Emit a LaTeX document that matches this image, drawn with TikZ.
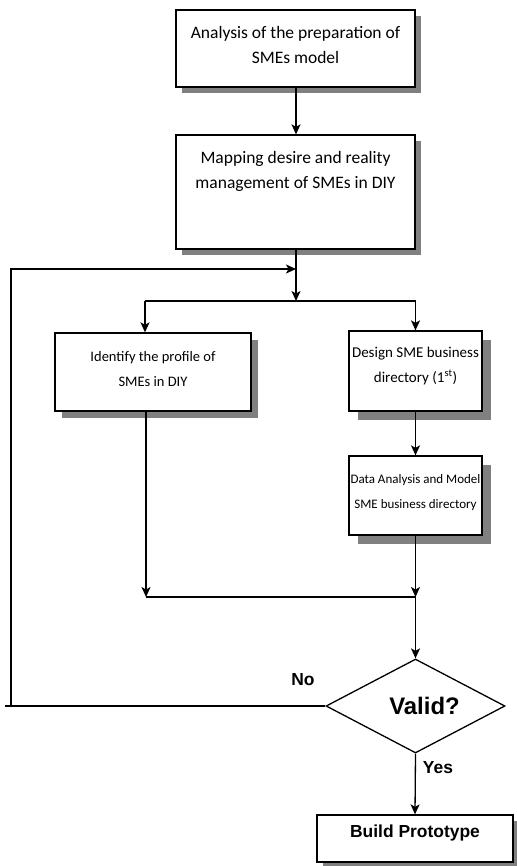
\documentclass[tikz,border=0pt]{standalone}
\usepackage{fontspec}
\setmainfont{Carlito}
\newfontfamily\arialf{Liberation Sans}
\usetikzlibrary{arrows.meta,shapes.geometric,shadows}
\tikzset{
  flowbox/.style={draw=black, line width=1.3bp, fill=white, inner sep=0pt,
    drop shadow={shadow xshift=#1, shadow yshift=-#1, fill=black!50, opacity=1}},
  flowbox/.default=7bp,
  conn/.style={draw=black, line width=1.3bp},
  arr/.style={conn, -{Stealth[length=10bp,width=9bp,inset=2.5bp]}},
  decision/.style={diamond, aspect=1.9, draw=black, line width=1.3bp, fill=white, inner sep=0pt,
    minimum width=179bp, minimum height=94bp, font=\arialf\bfseries\fontsize{24}{28}\selectfont},
  yesno/.style={font=\arialf\bfseries\fontsize{17.5}{20}\selectfont, inner sep=0pt, anchor=base}
}
% \boxcontent{width}{height}{first baseline}{font size}{text}
\newcommand{\boxcontent}[5]{\parbox[c][#2][t]{#1}{\centering\fontsize{#4}{25bp}\selectfont\rule{0pt}{#3}#5}}
\begin{document}
\begin{tikzpicture}[x=1bp,y=-1bp]
\useasboundingbox (0,0) rectangle (517,866);

% boxes
\node[flowbox=6bp] (b1) at (295.5,48.5)
  {\boxcontent{239bp}{77bp}{28bp}{17.5bp}{Analysis of the preparation of\\SMEs model}};
\node[flowbox=6bp] (b2) at (295.5,192)
  {\boxcontent{239bp}{114bp}{28bp}{17.5bp}{Mapping desire and reality\\management of SMEs in DIY}};
\node[flowbox=7bp] (b3) at (153,372)
  {\boxcontent{196bp}{78bp}{28bp}{14.5bp}{Identify the profile of\\SMEs in DIY}};
\node[flowbox=9bp] (b4) at (415.5,371)
  {\boxcontent{133bp}{80bp}{26bp}{15bp}{Design SME business\\directory (1\textsuperscript{st})}};
\node[flowbox=9bp] (b5) at (415.5,495.5)
  {\boxcontent{133bp}{79bp}{27bp}{13bp}{Data Analysis and Model\\SME business directory}};
\node[decision] (d) at (415.5,706) {\hspace{18bp}Valid?};
\node[flowbox=6bp] (b6) at (415,838.5)
  {\parbox[c][47bp][t]{196bp}{\centering\arialf\bfseries\fontsize{17.5}{20}\selectfont\rule{0pt}{22bp}Build Prototype}};

% labels
\node[yesno] (no) at (303,685) {No};
\node[yesno] (yes) at (438,773) {Yes};

% junction coordinates
\coordinate (j1) at (296,301);
\coordinate (jl) at (145,301);
\coordinate (jr) at (415.5,301);
\coordinate (fb) at (296,269);
\coordinate (fbl) at (11,269);
\coordinate (fbb) at (11,706);
\coordinate (fbend) at (5,706);
\coordinate (ml) at (146,597);
\coordinate (mr) at (415.5,597);

% connectors
\draw[arr] (b1.south -| fb) -- (b2.north -| fb);
\draw[arr] (b2.south -| fb) -- (j1);
\draw[conn] (jl) -- (jr);
\draw[arr] (jl) -- (b3.north -| jl);
\draw[arr] (jr) -- (b4.north);
\draw[arr] (b4.south) -- (b5.north);
\draw[arr] (b3.south -| ml) -- (ml);
\draw[conn] (ml) -- (mr);
\draw[arr] (b5.south) -- (mr);
\draw[arr] (mr) -- (d.north);
\draw[arr] (d.south) -- (b6.north);
\draw[conn] (d.west) -- (fbend);
\draw[arr] (fbb) -- (fbl) -- (fb);
\end{tikzpicture}
\end{document}
